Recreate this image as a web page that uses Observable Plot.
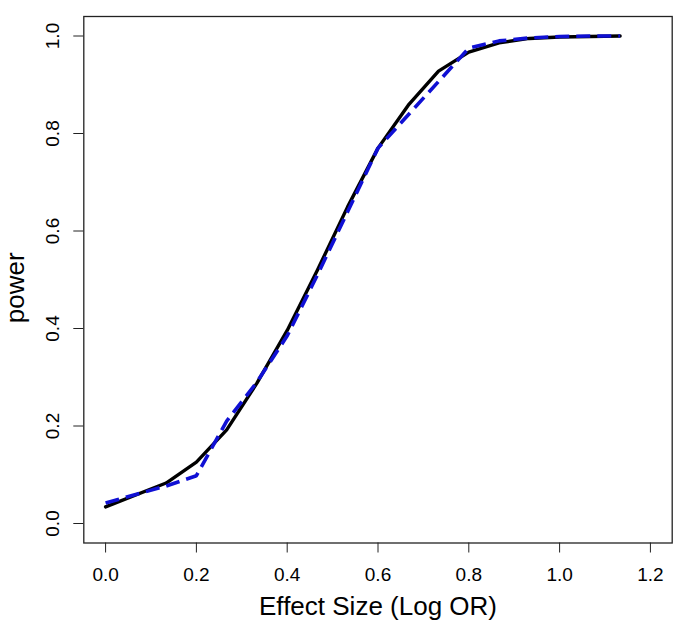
<!DOCTYPE html>
<html>
<head>
<meta charset="utf-8">
<script src="https://cdn.jsdelivr.net/npm/d3@7"></script>
<script src="https://cdn.jsdelivr.net/npm/@observablehq/plot@0.6"></script>
<style>
  html, body { margin: 0; padding: 0; background: #fff; }
  svg { font-family: "Liberation Sans", Arial, sans-serif; }
</style>
</head>
<body>
<div id="chart"></div>
<script>
const effectBlack = [0, 0.1333, 0.2, 0.2667, 0.3333, 0.4, 0.4667, 0.5333, 0.6, 0.6667, 0.7333, 0.8, 0.8667, 0.9333, 1.0, 1.0667, 1.1333];
const powerBlack  = [0.034, 0.083, 0.126, 0.192, 0.288, 0.396, 0.52, 0.65, 0.77, 0.858, 0.928, 0.967, 0.986, 0.995, 0.998, 0.999, 1.0];
const effectBlue  = [0, 0.1333, 0.2, 0.2667, 0.3333, 0.4, 0.4667, 0.5333, 0.6, 0.8, 0.8667, 0.9333, 1.0, 1.0667, 1.1333];
const powerBlue   = [0.042, 0.077, 0.098, 0.21, 0.29, 0.385, 0.51, 0.64, 0.77, 0.975, 0.99, 0.996, 0.999, 1.0, 1.0];
const xTicks = [0, 0.2, 0.4, 0.6, 0.8, 1.0, 1.2];
const yTicks = [0, 0.2, 0.4, 0.6, 0.8, 1.0];
const xTitle = "Effect Size (Log OR)";
const yTitle = "power";

const black = effectBlack.map((x, i) => ({x, y: powerBlack[i]}));
const blue = effectBlue.map((x, i) => ({x, y: powerBlue[i]}));

const chart = Plot.plot({
  width: 685,
  height: 635,
  marginLeft: 83.3,
  marginRight: 13.3,
  marginTop: 16,
  marginBottom: 92.5,
  style: {background: "#fff", color: "#000"},
  x: {domain: [-0.048, 1.248]},
  y: {domain: [-0.04, 1.04]},
  marks: [
    Plot.frame({stroke: "#222", strokeWidth: 1.3}),
    Plot.axisX({ticks: xTicks, tickFormat: d3.format(".1f"), tickSize: 10, tickPadding: 14, fontSize: 19, label: null, stroke: "#222"}),
    Plot.axisY({ticks: yTicks, tickFormat: d3.format(".1f"), tickSize: 10, tickPadding: 15, fontSize: 19, tickRotate: -90, label: null, stroke: "#222"}),
    Plot.text([xTitle], {frameAnchor: "bottom", dy: 72, fontSize: 26, text: d => d}),
    Plot.text([yTitle], {frameAnchor: "left", textAnchor: "middle", dx: -68, dy: 8, rotate: -90, fontSize: 26, text: d => d}),
    Plot.line(black, {x: "x", y: "y", stroke: "#000", strokeWidth: 3.4}),
    Plot.line(blue, {x: "x", y: "y", stroke: "#1010d4", strokeWidth: 3.6, strokeDasharray: "14,7", strokeLinecap: "butt"})
  ]
});
document.getElementById("chart").appendChild(chart);
</script>
</body>
</html>
